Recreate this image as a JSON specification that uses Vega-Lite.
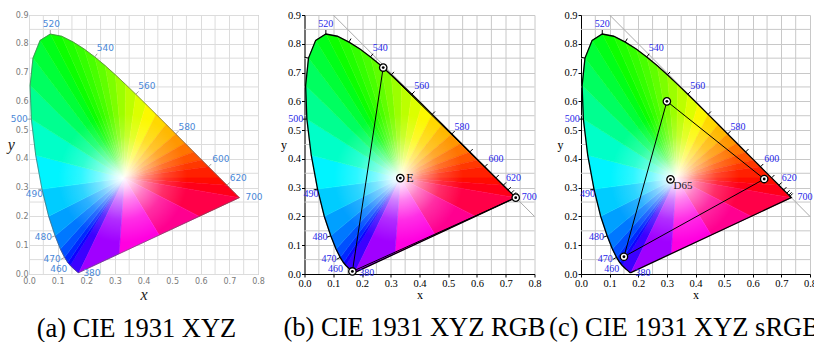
{
  "$schema": "https://vega.github.io/schema/vega-lite/v6.json",
  "background": "white",
  "padding": {"left": 6, "top": 10, "right": 0, "bottom": 0},
  "bounds": "flush",
  "spacing": 46.5,
  "config": {"view": {"stroke": null}},
  "datasets": {
    "tri": [
      {"s":0,"o":0,"x":0.3333,"y":0.3333},{"s":0,"o":1,"x":0.1741,"y":0.0050},{"s":0,"o":2,"x":0.1714,"y":0.0051},{"s":0,"o":3,"x":0.1689,"y":0.0069},{"s":0,"o":4,"x":0.1644,"y":0.0109},{"s":0,"o":5,"x":0.1566,"y":0.0177},{"s":0,"o":6,"x":0.1440,"y":0.0297},
      {"s":1,"o":0,"x":0.3333,"y":0.3333},{"s":1,"o":1,"x":0.1440,"y":0.0297},{"s":1,"o":2,"x":0.1355,"y":0.0399},
      {"s":2,"o":0,"x":0.3333,"y":0.3333},{"s":2,"o":1,"x":0.1355,"y":0.0399},{"s":2,"o":2,"x":0.1241,"y":0.0578},
      {"s":3,"o":0,"x":0.3333,"y":0.3333},{"s":3,"o":1,"x":0.1241,"y":0.0578},{"s":3,"o":2,"x":0.1096,"y":0.0868},
      {"s":4,"o":0,"x":0.3333,"y":0.3333},{"s":4,"o":1,"x":0.1096,"y":0.0868},{"s":4,"o":2,"x":0.0913,"y":0.1327},
      {"s":5,"o":0,"x":0.3333,"y":0.3333},{"s":5,"o":1,"x":0.0913,"y":0.1327},{"s":5,"o":2,"x":0.0687,"y":0.2007},
      {"s":6,"o":0,"x":0.3333,"y":0.3333},{"s":6,"o":1,"x":0.0687,"y":0.2007},{"s":6,"o":2,"x":0.0454,"y":0.2950},
      {"s":7,"o":0,"x":0.3333,"y":0.3333},{"s":7,"o":1,"x":0.0454,"y":0.2950},{"s":7,"o":2,"x":0.0235,"y":0.4127},
      {"s":8,"o":0,"x":0.3333,"y":0.3333},{"s":8,"o":1,"x":0.0235,"y":0.4127},{"s":8,"o":2,"x":0.0082,"y":0.5384},
      {"s":9,"o":0,"x":0.3333,"y":0.3333},{"s":9,"o":1,"x":0.0082,"y":0.5384},{"s":9,"o":2,"x":0.0039,"y":0.6548},
      {"s":10,"o":0,"x":0.3333,"y":0.3333},{"s":10,"o":1,"x":0.0039,"y":0.6548},{"s":10,"o":2,"x":0.0139,"y":0.7502},
      {"s":11,"o":0,"x":0.3333,"y":0.3333},{"s":11,"o":1,"x":0.0139,"y":0.7502},{"s":11,"o":2,"x":0.0389,"y":0.8120},
      {"s":12,"o":0,"x":0.3333,"y":0.3333},{"s":12,"o":1,"x":0.0389,"y":0.8120},{"s":12,"o":2,"x":0.0743,"y":0.8338},
      {"s":13,"o":0,"x":0.3333,"y":0.3333},{"s":13,"o":1,"x":0.0743,"y":0.8338},{"s":13,"o":2,"x":0.1142,"y":0.8262},
      {"s":14,"o":0,"x":0.3333,"y":0.3333},{"s":14,"o":1,"x":0.1142,"y":0.8262},{"s":14,"o":2,"x":0.1547,"y":0.8059},
      {"s":15,"o":0,"x":0.3333,"y":0.3333},{"s":15,"o":1,"x":0.1547,"y":0.8059},{"s":15,"o":2,"x":0.1929,"y":0.7816},
      {"s":16,"o":0,"x":0.3333,"y":0.3333},{"s":16,"o":1,"x":0.1929,"y":0.7816},{"s":16,"o":2,"x":0.2296,"y":0.7543},
      {"s":17,"o":0,"x":0.3333,"y":0.3333},{"s":17,"o":1,"x":0.2296,"y":0.7543},{"s":17,"o":2,"x":0.2658,"y":0.7243},
      {"s":18,"o":0,"x":0.3333,"y":0.3333},{"s":18,"o":1,"x":0.2658,"y":0.7243},{"s":18,"o":2,"x":0.3016,"y":0.6923},
      {"s":19,"o":0,"x":0.3333,"y":0.3333},{"s":19,"o":1,"x":0.3016,"y":0.6923},{"s":19,"o":2,"x":0.3373,"y":0.6589},
      {"s":20,"o":0,"x":0.3333,"y":0.3333},{"s":20,"o":1,"x":0.3373,"y":0.6589},{"s":20,"o":2,"x":0.3731,"y":0.6245},
      {"s":21,"o":0,"x":0.3333,"y":0.3333},{"s":21,"o":1,"x":0.3731,"y":0.6245},{"s":21,"o":2,"x":0.4087,"y":0.5896},
      {"s":22,"o":0,"x":0.3333,"y":0.3333},{"s":22,"o":1,"x":0.4087,"y":0.5896},{"s":22,"o":2,"x":0.4441,"y":0.5547},
      {"s":23,"o":0,"x":0.3333,"y":0.3333},{"s":23,"o":1,"x":0.4441,"y":0.5547},{"s":23,"o":2,"x":0.4788,"y":0.5202},
      {"s":24,"o":0,"x":0.3333,"y":0.3333},{"s":24,"o":1,"x":0.4788,"y":0.5202},{"s":24,"o":2,"x":0.5125,"y":0.4866},
      {"s":25,"o":0,"x":0.3333,"y":0.3333},{"s":25,"o":1,"x":0.5125,"y":0.4866},{"s":25,"o":2,"x":0.5448,"y":0.4544},
      {"s":26,"o":0,"x":0.3333,"y":0.3333},{"s":26,"o":1,"x":0.5448,"y":0.4544},{"s":26,"o":2,"x":0.5752,"y":0.4242},
      {"s":27,"o":0,"x":0.3333,"y":0.3333},{"s":27,"o":1,"x":0.5752,"y":0.4242},{"s":27,"o":2,"x":0.6029,"y":0.3965},
      {"s":28,"o":0,"x":0.3333,"y":0.3333},{"s":28,"o":1,"x":0.6029,"y":0.3965},{"s":28,"o":2,"x":0.6270,"y":0.3725},
      {"s":29,"o":0,"x":0.3333,"y":0.3333},{"s":29,"o":1,"x":0.6270,"y":0.3725},{"s":29,"o":2,"x":0.6658,"y":0.3340},
      {"s":30,"o":0,"x":0.3333,"y":0.3333},{"s":30,"o":1,"x":0.6658,"y":0.3340},{"s":30,"o":2,"x":0.6915,"y":0.3083},
      {"s":31,"o":0,"x":0.3333,"y":0.3333},{"s":31,"o":1,"x":0.6915,"y":0.3083},{"s":31,"o":2,"x":0.7079,"y":0.2920},{"s":31,"o":3,"x":0.7190,"y":0.2809},{"s":31,"o":4,"x":0.7260,"y":0.2740},{"s":31,"o":5,"x":0.7300,"y":0.2700},{"s":31,"o":6,"x":0.7334,"y":0.2666},{"s":31,"o":7,"x":0.7347,"y":0.2653},
      {"s":32,"o":0,"x":0.3333,"y":0.3333},{"s":32,"o":1,"x":0.7347,"y":0.2653},{"s":32,"o":2,"x":0.5946,"y":0.2002},
      {"s":33,"o":0,"x":0.3333,"y":0.3333},{"s":33,"o":1,"x":0.5946,"y":0.2002},{"s":33,"o":2,"x":0.4544,"y":0.1352},
      {"s":34,"o":0,"x":0.3333,"y":0.3333},{"s":34,"o":1,"x":0.4544,"y":0.1352},{"s":34,"o":2,"x":0.3143,"y":0.0701},
      {"s":35,"o":0,"x":0.3333,"y":0.3333},{"s":35,"o":1,"x":0.3143,"y":0.0701},{"s":35,"o":2,"x":0.1741,"y":0.0050}
    ],
    "locus": [
      {"i":0,"x":0.1741,"y":0.0050},{"i":1,"x":0.1714,"y":0.0051},{"i":2,"x":0.1689,"y":0.0069},{"i":3,"x":0.1644,"y":0.0109},{"i":4,"x":0.1566,"y":0.0177},{"i":5,"x":0.1440,"y":0.0297},{"i":6,"x":0.1355,"y":0.0399},{"i":7,"x":0.1241,"y":0.0578},{"i":8,"x":0.1096,"y":0.0868},{"i":9,"x":0.0913,"y":0.1327},{"i":10,"x":0.0687,"y":0.2007},{"i":11,"x":0.0454,"y":0.2950},{"i":12,"x":0.0235,"y":0.4127},{"i":13,"x":0.0082,"y":0.5384},{"i":14,"x":0.0039,"y":0.6548},{"i":15,"x":0.0139,"y":0.7502},{"i":16,"x":0.0389,"y":0.8120},{"i":17,"x":0.0743,"y":0.8338},{"i":18,"x":0.1142,"y":0.8262},{"i":19,"x":0.1547,"y":0.8059},{"i":20,"x":0.1929,"y":0.7816},{"i":21,"x":0.2296,"y":0.7543},{"i":22,"x":0.2658,"y":0.7243},{"i":23,"x":0.3016,"y":0.6923},{"i":24,"x":0.3373,"y":0.6589},{"i":25,"x":0.3731,"y":0.6245},{"i":26,"x":0.4087,"y":0.5896},{"i":27,"x":0.4441,"y":0.5547},{"i":28,"x":0.4788,"y":0.5202},{"i":29,"x":0.5125,"y":0.4866},{"i":30,"x":0.5448,"y":0.4544},{"i":31,"x":0.5752,"y":0.4242},{"i":32,"x":0.6029,"y":0.3965},{"i":33,"x":0.6270,"y":0.3725},{"i":34,"x":0.6658,"y":0.3340},{"i":35,"x":0.6915,"y":0.3083},{"i":36,"x":0.7079,"y":0.2920},{"i":37,"x":0.7190,"y":0.2809},{"i":38,"x":0.7260,"y":0.2740},{"i":39,"x":0.7300,"y":0.2700},{"i":40,"x":0.7334,"y":0.2666},{"i":41,"x":0.7347,"y":0.2653},{"i":42,"x":0.1741,"y":0.0050}
    ],
    "ticks": [
      {"wl":470,"lab":1,"x":0.1241,"y":0.0578,"x2":0.1119,"y2":0.0511},
      {"wl":480,"lab":1,"x":0.0913,"y":0.1327,"x2":0.0781,"y2":0.1279},
      {"wl":490,"lab":1,"x":0.0454,"y":0.2950,"x2":0.0317,"y2":0.2921},
      {"wl":500,"lab":1,"x":0.0082,"y":0.5384,"x2":-0.0058,"y2":0.5380},
      {"wl":510,"lab":0,"x":0.0139,"y":0.7502,"x2":0.0002,"y2":0.7533},
      {"wl":520,"lab":1,"x":0.0743,"y":0.8338,"x2":0.0743,"y2":0.8478},
      {"wl":530,"lab":0,"x":0.1547,"y":0.8059,"x2":0.1617,"y2":0.8181},
      {"wl":540,"lab":1,"x":0.2296,"y":0.7543,"x2":0.2383,"y2":0.7654},
      {"wl":550,"lab":0,"x":0.3016,"y":0.6923,"x2":0.3113,"y2":0.7024},
      {"wl":560,"lab":1,"x":0.3731,"y":0.6245,"x2":0.3829,"y2":0.6344},
      {"wl":570,"lab":0,"x":0.4441,"y":0.5547,"x2":0.4539,"y2":0.5646},
      {"wl":580,"lab":1,"x":0.5125,"y":0.4866,"x2":0.5223,"y2":0.4965},
      {"wl":590,"lab":0,"x":0.5752,"y":0.4242,"x2":0.5850,"y2":0.4341},
      {"wl":600,"lab":1,"x":0.6270,"y":0.3725,"x2":0.6368,"y2":0.3824},
      {"wl":610,"lab":0,"x":0.6658,"y":0.3340,"x2":0.6756,"y2":0.3439},
      {"wl":620,"lab":1,"x":0.6915,"y":0.3083,"x2":0.7013,"y2":0.3182},
      {"wl":630,"lab":0,"x":0.7079,"y":0.2920,"x2":0.7177,"y2":0.3019},
      {"wl":640,"lab":0,"x":0.7190,"y":0.2809,"x2":0.7288,"y2":0.2908},
      {"wl":650,"lab":0,"x":0.7260,"y":0.2740,"x2":0.7358,"y2":0.2839},
      {"wl":660,"lab":0,"x":0.7300,"y":0.2700,"x2":0.7398,"y2":0.2799}
    ],
    "wl": [
      {"t":"520","x":0.048,"y":0.867,"side":"r"},
      {"t":"540","x":0.237,"y":0.785,"side":"r"},
      {"t":"560","x":0.382,"y":0.653,"side":"r"},
      {"t":"580","x":0.522,"y":0.512,"side":"r"},
      {"t":"600","x":0.640,"y":0.398,"side":"r"},
      {"t":"620","x":0.701,"y":0.334,"side":"r"},
      {"t":"700","x":0.756,"y":0.266,"side":"r"},
      {"t":"380","x":0.190,"y":0.003,"side":"r"},
      {"t":"500","x":-0.004,"y":0.538,"side":"l"},
      {"t":"490","x":0.049,"y":0.277,"side":"l"},
      {"t":"480","x":0.080,"y":0.127,"side":"l"},
      {"t":"470","x":0.111,"y":0.053,"side":"l"},
      {"t":"460","x":0.134,"y":0.019,"side":"l"}
    ],
    "gx": [{"x":0.05,"y":0,"y2":0.9},{"x":0.15,"y":0,"y2":0.9},{"x":0.25,"y":0,"y2":0.9},{"x":0.35,"y":0,"y2":0.9},{"x":0.45,"y":0,"y2":0.9},{"x":0.55,"y":0,"y2":0.9},{"x":0.65,"y":0,"y2":0.9},{"x":0.75,"y":0,"y2":0.9}],
    "gy": [{"y":0.05,"x":0,"x2":0.8},{"y":0.15,"x":0,"x2":0.8},{"y":0.25,"x":0,"x2":0.8},{"y":0.35,"x":0,"x2":0.8},{"y":0.45,"x":0,"x2":0.8},{"y":0.55,"x":0,"x2":0.8},{"y":0.65,"x":0,"x2":0.8},{"y":0.75,"x":0,"x2":0.8},{"y":0.85,"x":0,"x2":0.8}],
    "diag": [{"x":0.1,"y":0.9},{"x":0.8,"y":0.2}],
    "gRGB": [{"o":0,"x":0.7347,"y":0.2653},{"o":1,"x":0.2738,"y":0.7174},{"o":2,"x":0.1666,"y":0.0089},{"o":3,"x":0.7347,"y":0.2653}],
    "gSRGB": [{"o":0,"x":0.64,"y":0.33},{"o":1,"x":0.30,"y":0.60},{"o":2,"x":0.15,"y":0.06},{"o":3,"x":0.64,"y":0.33}],
    "pRGB": [{"x":0.7347,"y":0.2653},{"x":0.2738,"y":0.7174},{"x":0.1666,"y":0.0089},{"x":0.3333,"y":0.3333}],
    "pSRGB": [{"x":0.64,"y":0.33},{"x":0.30,"y":0.60},{"x":0.15,"y":0.06},{"x":0.3127,"y":0.3290}],
    "wpE": [{"x":0.3333,"y":0.3333,"t":"E"}],
    "wpD": [{"x":0.3127,"y":0.3290,"t":"D65"}]
  },
  "hconcat": [
    {
      "width": 229, "height": 259,
      "view": {"stroke": "#a8a8a8"},
      "title": {"text": "(a) CIE 1931 XYZ", "orient": "bottom", "dx": -7, "offset": 14, "font": "Liberation Serif", "fontSize": 26.5, "fontWeight": "normal", "color": "#000"},
      "encoding": {
        "x": {"field": "x", "type": "quantitative", "scale": {"domain": [0, 0.8], "nice": false, "zero": false},
          "axis": {"title": "x", "values": [0,0.1,0.2,0.3,0.4,0.5,0.6,0.7,0.8], "format": ".1f", "labelFlush": false, "labelOverlap": false, "grid": true, "gridColor": "#dcdcdc", "ticks": false, "domain": false, "labelFont": "DejaVu Sans", "labelFontSize": 8, "labelColor": "#7a7a7a", "labelPadding": 3, "titleFont": "Liberation Serif", "titleFontStyle": "italic", "titleFontWeight": "normal", "titleFontSize": 16, "titleColor": "#222", "titlePadding": 1}},
        "y": {"field": "y", "type": "quantitative", "scale": {"domain": [0, 0.9], "nice": false, "zero": false},
          "axis": {"title": "y", "values": [0,0.1,0.2,0.3,0.4,0.5,0.6,0.7,0.8,0.9], "format": ".1f", "labelOverlap": false, "grid": true, "gridColor": "#dcdcdc", "ticks": false, "domain": false, "labelFont": "DejaVu Sans", "labelFontSize": 8, "labelColor": "#7a7a7a", "labelPadding": 1, "titleFont": "Liberation Serif", "titleFontStyle": "italic", "titleFontWeight": "normal", "titleFontSize": 16, "titleColor": "#222", "titlePadding": 1, "titleAngle": 0, "titleAlign": "right", "titleBaseline": "middle"}}
      },
      "layer": [
        {"data": {"name": "gx"}, "mark": {"type": "rule", "color": "#dcdcdc", "strokeWidth": 1}, "encoding": {"y2": {"field": "y2"}}},
        {"data": {"name": "gy"}, "mark": {"type": "rule", "color": "#dcdcdc", "strokeWidth": 1}, "encoding": {"x2": {"field": "x2"}}},
        {
          "data": {"name": "tri"},
          "mark": {"type": "line", "filled": true, "strokeWidth": 0.7},
          "encoding": {
            "order": {"field": "o", "type": "quantitative"},
            "color": {"field": "s", "type": "nominal", "legend": null, "scale": {"domain": [0,1,2,3,4,5,6,7,8,9,10,11,12,13,14,15,16,17,18,19,20,21,22,23,24,25,26,27,28,29,30,31,32,33,34,35], "range": ["#3c00ff","#1000ff","#0028ff","#0050ff","#0078ff","#00a0ff","#00ccff","#00f4ff","#00ffc8","#00ff90","#00ff60","#00ff38","#00ff18","#0cff00","#20ff00","#34ff00","#48ff00","#60ff00","#7cff00","#9cff00","#bcff00","#dcff00","#fcf800","#ffd800","#ffb800","#ff9600","#ff7400","#ff5400","#ff3800","#ff2000","#ff0c00","#ff0018","#ff0048","#ff0090","#ff00e0","#a000ff"]}},
            "stroke": {"field": "s", "type": "nominal", "legend": null, "scale": {"domain": [0,1,2,3,4,5,6,7,8,9,10,11,12,13,14,15,16,17,18,19,20,21,22,23,24,25,26,27,28,29,30,31,32,33,34,35], "range": ["#3c00ff","#1000ff","#0028ff","#0050ff","#0078ff","#00a0ff","#00ccff","#00f4ff","#00ffc8","#00ff90","#00ff60","#00ff38","#00ff18","#0cff00","#20ff00","#34ff00","#48ff00","#60ff00","#7cff00","#9cff00","#bcff00","#dcff00","#fcf800","#ffd800","#ffb800","#ff9600","#ff7400","#ff5400","#ff3800","#ff2000","#ff0c00","#ff0018","#ff0048","#ff0090","#ff00e0","#a000ff"]}}
          }
        },
        {
          "data": {"name": "locus"},
          "transform": [{"filter": "datum.i <= 41"}],
          "mark": {"type": "line", "strokeWidth": 0, "fill": {"gradient": "radial", "x1": 0.45, "y1": 0.604, "r1": 0, "x2": 0.45, "y2": 0.604, "r2": 0.27, "stops": [{"offset": 0, "color": "rgba(255,255,255,1)"}, {"offset": 0.12, "color": "rgba(255,255,255,0.85)"}, {"offset": 0.35, "color": "rgba(255,255,255,0.5)"}, {"offset": 0.65, "color": "rgba(255,255,255,0.18)"}, {"offset": 1, "color": "rgba(255,255,255,0)"}]}},
          "encoding": {"order": {"field": "i", "type": "quantitative"}}
        },
        {"data": {"name": "locus"}, "mark": {"type": "line", "color": "#555", "strokeWidth": 0.6}, "encoding": {"order": {"field": "i", "type": "quantitative"}}},
        {"data": {"name": "ticks"}, "transform": [{"filter": "datum.lab == 1"}], "mark": {"type": "rule", "color": "#888", "strokeWidth": 0.8}, "encoding": {"x2": {"field": "x2"}, "y2": {"field": "y2"}}},
        {
          "data": {"name": "wl"},
          "transform": [{"filter": "datum.side == 'r'"}],
          "mark": {"type": "text", "align": "left", "baseline": "middle", "font": "DejaVu Sans", "fontSize": 9, "color": "#4a88d8"},
          "encoding": {"text": {"field": "t"}}
        },
        {
          "data": {"name": "wl"},
          "transform": [{"filter": "datum.side == 'l'"}],
          "mark": {"type": "text", "align": "right", "baseline": "middle", "font": "DejaVu Sans", "fontSize": 9, "color": "#4a88d8"},
          "encoding": {"text": {"field": "t"}}
        }
      ]
    },
    {
      "width": 230, "height": 259,
      "title": {"text": "(b) CIE 1931 XYZ RGB", "orient": "bottom", "dx": -5, "offset": 14, "font": "Liberation Serif", "fontSize": 26.5, "fontWeight": "normal", "color": "#000"},
      "encoding": {
        "x": {"field": "x", "type": "quantitative", "scale": {"domain": [0, 0.8], "nice": false, "zero": false},
          "axis": {"title": "x", "values": [0,0.1,0.2,0.3,0.4,0.5,0.6,0.7,0.8], "format": ".1f", "labelFlush": false, "labelOverlap": false, "grid": true, "gridColor": "#c8c8c8", "domainColor": "#000", "tickColor": "#000", "tickSize": 3, "labelFont": "Liberation Serif", "labelFontSize": 10.5, "labelColor": "#000", "labelPadding": 1, "titleFont": "Liberation Serif", "titleFontWeight": "normal", "titleFontSize": 12, "titleColor": "#000", "titlePadding": 1}},
        "y": {"field": "y", "type": "quantitative", "scale": {"domain": [0, 0.9], "nice": false, "zero": false},
          "axis": {"title": "y", "values": [0,0.1,0.2,0.3,0.4,0.5,0.6,0.7,0.8,0.9], "format": ".1f", "labelOverlap": false, "grid": true, "gridColor": "#c8c8c8", "domainColor": "#000", "tickColor": "#000", "tickSize": 3, "labelFont": "Liberation Serif", "labelFontSize": 10.5, "labelColor": "#000", "labelPadding": 1, "titleFont": "Liberation Serif", "titleFontWeight": "normal", "titleFontSize": 12, "titleColor": "#000", "titlePadding": 1, "titleAngle": 0, "titleAlign": "right", "titleBaseline": "middle"}}
      },
      "layer": [
        {"data": {"name": "gx"}, "mark": {"type": "rule", "color": "#c8c8c8", "strokeWidth": 1}, "encoding": {"y2": {"field": "y2"}}},
        {"data": {"name": "gy"}, "mark": {"type": "rule", "color": "#c8c8c8", "strokeWidth": 1}, "encoding": {"x2": {"field": "x2"}}},
        {
          "data": {"name": "tri"},
          "mark": {"type": "line", "filled": true, "strokeWidth": 0.7},
          "encoding": {
            "order": {"field": "o", "type": "quantitative"},
            "color": {"field": "s", "type": "nominal", "legend": null, "scale": {"domain": [0,1,2,3,4,5,6,7,8,9,10,11,12,13,14,15,16,17,18,19,20,21,22,23,24,25,26,27,28,29,30,31,32,33,34,35], "range": ["#3c00ff","#1000ff","#0028ff","#0050ff","#0078ff","#00a0ff","#00ccff","#00f4ff","#00ffc8","#00ff90","#00ff60","#00ff38","#00ff18","#0cff00","#20ff00","#34ff00","#48ff00","#60ff00","#7cff00","#9cff00","#bcff00","#dcff00","#fcf800","#ffd800","#ffb800","#ff9600","#ff7400","#ff5400","#ff3800","#ff2000","#ff0c00","#ff0018","#ff0048","#ff0090","#ff00e0","#a000ff"]}},
            "stroke": {"field": "s", "type": "nominal", "legend": null, "scale": {"domain": [0,1,2,3,4,5,6,7,8,9,10,11,12,13,14,15,16,17,18,19,20,21,22,23,24,25,26,27,28,29,30,31,32,33,34,35], "range": ["#3c00ff","#1000ff","#0028ff","#0050ff","#0078ff","#00a0ff","#00ccff","#00f4ff","#00ffc8","#00ff90","#00ff60","#00ff38","#00ff18","#0cff00","#20ff00","#34ff00","#48ff00","#60ff00","#7cff00","#9cff00","#bcff00","#dcff00","#fcf800","#ffd800","#ffb800","#ff9600","#ff7400","#ff5400","#ff3800","#ff2000","#ff0c00","#ff0018","#ff0048","#ff0090","#ff00e0","#a000ff"]}}
          }
        },
        {
          "data": {"name": "locus"},
          "transform": [{"filter": "datum.i <= 41"}],
          "mark": {"type": "line", "strokeWidth": 0, "fill": {"gradient": "radial", "x1": 0.45, "y1": 0.604, "r1": 0, "x2": 0.45, "y2": 0.604, "r2": 0.27, "stops": [{"offset": 0, "color": "rgba(255,255,255,1)"}, {"offset": 0.12, "color": "rgba(255,255,255,0.85)"}, {"offset": 0.35, "color": "rgba(255,255,255,0.5)"}, {"offset": 0.65, "color": "rgba(255,255,255,0.18)"}, {"offset": 1, "color": "rgba(255,255,255,0)"}]}},
          "encoding": {"order": {"field": "i", "type": "quantitative"}}
        },
        {"data": {"name": "diag"}, "mark": {"type": "line", "color": "#aaaaaa", "strokeWidth": 1}, "encoding": {}},
        {"data": {"name": "locus"}, "mark": {"type": "line", "color": "#000", "strokeWidth": 1.3}, "encoding": {"order": {"field": "i", "type": "quantitative"}}},
        {"data": {"name": "ticks"}, "mark": {"type": "rule", "color": "#000", "strokeWidth": 1}, "encoding": {"x2": {"field": "x2"}, "y2": {"field": "y2"}}},
        {"data": {"name": "gRGB"}, "mark": {"type": "line", "color": "#000", "strokeWidth": 1}, "encoding": {"order": {"field": "o", "type": "quantitative"}}},
        {
          "data": {"name": "wl"},
          "transform": [{"filter": "datum.side == 'r'"}],
          "mark": {"type": "text", "align": "left", "baseline": "middle", "font": "Liberation Serif", "fontSize": 10, "color": "#2626e8"},
          "encoding": {"text": {"field": "t"}}
        },
        {
          "data": {"name": "wl"},
          "transform": [{"filter": "datum.side == 'l'"}],
          "mark": {"type": "text", "align": "right", "baseline": "middle", "font": "Liberation Serif", "fontSize": 10, "color": "#2626e8"},
          "encoding": {"text": {"field": "t"}}
        },
        {"data": {"name": "pRGB"}, "mark": {"type": "point", "shape": "circle", "filled": true, "fill": "#fff", "stroke": "#000", "strokeWidth": 1.3, "size": 55, "opacity": 1}, "encoding": {}},
        {"data": {"name": "pRGB"}, "mark": {"type": "point", "shape": "circle", "filled": true, "color": "#000", "size": 8, "opacity": 1}, "encoding": {}},
        {
          "data": {"name": "wpE"},
          "mark": {"type": "text", "align": "left", "baseline": "middle", "dx": 6, "font": "Liberation Serif", "fontSize": 12, "color": "#000"},
          "encoding": {"text": {"field": "t"}}
        }
      ]
    },
    {
      "width": 229, "height": 259,
      "title": {"text": "(c) CIE 1931 XYZ sRGB", "orient": "bottom", "dx": -11, "offset": 14, "font": "Liberation Serif", "fontSize": 26.5, "fontWeight": "normal", "color": "#000"},
      "encoding": {
        "x": {"field": "x", "type": "quantitative", "scale": {"domain": [0, 0.8], "nice": false, "zero": false},
          "axis": {"title": "x", "values": [0,0.1,0.2,0.3,0.4,0.5,0.6,0.7,0.8], "format": ".1f", "labelFlush": false, "labelOverlap": false, "grid": true, "gridColor": "#c8c8c8", "domainColor": "#000", "tickColor": "#000", "tickSize": 3, "labelFont": "Liberation Serif", "labelFontSize": 10.5, "labelColor": "#000", "labelPadding": 1, "titleFont": "Liberation Serif", "titleFontWeight": "normal", "titleFontSize": 12, "titleColor": "#000", "titlePadding": 1}},
        "y": {"field": "y", "type": "quantitative", "scale": {"domain": [0, 0.9], "nice": false, "zero": false},
          "axis": {"title": "y", "values": [0,0.1,0.2,0.3,0.4,0.5,0.6,0.7,0.8,0.9], "format": ".1f", "labelOverlap": false, "grid": true, "gridColor": "#c8c8c8", "domainColor": "#000", "tickColor": "#000", "tickSize": 3, "labelFont": "Liberation Serif", "labelFontSize": 10.5, "labelColor": "#000", "labelPadding": 1, "titleFont": "Liberation Serif", "titleFontWeight": "normal", "titleFontSize": 12, "titleColor": "#000", "titlePadding": 1, "titleAngle": 0, "titleAlign": "right", "titleBaseline": "middle"}}
      },
      "layer": [
        {"data": {"name": "gx"}, "mark": {"type": "rule", "color": "#c8c8c8", "strokeWidth": 1}, "encoding": {"y2": {"field": "y2"}}},
        {"data": {"name": "gy"}, "mark": {"type": "rule", "color": "#c8c8c8", "strokeWidth": 1}, "encoding": {"x2": {"field": "x2"}}},
        {
          "data": {"name": "tri"},
          "mark": {"type": "line", "filled": true, "strokeWidth": 0.7},
          "encoding": {
            "order": {"field": "o", "type": "quantitative"},
            "color": {"field": "s", "type": "nominal", "legend": null, "scale": {"domain": [0,1,2,3,4,5,6,7,8,9,10,11,12,13,14,15,16,17,18,19,20,21,22,23,24,25,26,27,28,29,30,31,32,33,34,35], "range": ["#3c00ff","#1000ff","#0028ff","#0050ff","#0078ff","#00a0ff","#00ccff","#00f4ff","#00ffc8","#00ff90","#00ff60","#00ff38","#00ff18","#0cff00","#20ff00","#34ff00","#48ff00","#60ff00","#7cff00","#9cff00","#bcff00","#dcff00","#fcf800","#ffd800","#ffb800","#ff9600","#ff7400","#ff5400","#ff3800","#ff2000","#ff0c00","#ff0018","#ff0048","#ff0090","#ff00e0","#a000ff"]}},
            "stroke": {"field": "s", "type": "nominal", "legend": null, "scale": {"domain": [0,1,2,3,4,5,6,7,8,9,10,11,12,13,14,15,16,17,18,19,20,21,22,23,24,25,26,27,28,29,30,31,32,33,34,35], "range": ["#3c00ff","#1000ff","#0028ff","#0050ff","#0078ff","#00a0ff","#00ccff","#00f4ff","#00ffc8","#00ff90","#00ff60","#00ff38","#00ff18","#0cff00","#20ff00","#34ff00","#48ff00","#60ff00","#7cff00","#9cff00","#bcff00","#dcff00","#fcf800","#ffd800","#ffb800","#ff9600","#ff7400","#ff5400","#ff3800","#ff2000","#ff0c00","#ff0018","#ff0048","#ff0090","#ff00e0","#a000ff"]}}
          }
        },
        {
          "data": {"name": "locus"},
          "transform": [{"filter": "datum.i <= 41"}],
          "mark": {"type": "line", "strokeWidth": 0, "fill": {"gradient": "radial", "x1": 0.45, "y1": 0.604, "r1": 0, "x2": 0.45, "y2": 0.604, "r2": 0.27, "stops": [{"offset": 0, "color": "rgba(255,255,255,1)"}, {"offset": 0.12, "color": "rgba(255,255,255,0.85)"}, {"offset": 0.35, "color": "rgba(255,255,255,0.5)"}, {"offset": 0.65, "color": "rgba(255,255,255,0.18)"}, {"offset": 1, "color": "rgba(255,255,255,0)"}]}},
          "encoding": {"order": {"field": "i", "type": "quantitative"}}
        },
        {"data": {"name": "diag"}, "mark": {"type": "line", "color": "#aaaaaa", "strokeWidth": 1}, "encoding": {}},
        {"data": {"name": "locus"}, "mark": {"type": "line", "color": "#000", "strokeWidth": 1.3}, "encoding": {"order": {"field": "i", "type": "quantitative"}}},
        {"data": {"name": "ticks"}, "mark": {"type": "rule", "color": "#000", "strokeWidth": 1}, "encoding": {"x2": {"field": "x2"}, "y2": {"field": "y2"}}},
        {"data": {"name": "gSRGB"}, "mark": {"type": "line", "color": "#000", "strokeWidth": 1}, "encoding": {"order": {"field": "o", "type": "quantitative"}}},
        {
          "data": {"name": "wl"},
          "transform": [{"filter": "datum.side == 'r'"}],
          "mark": {"type": "text", "align": "left", "baseline": "middle", "font": "Liberation Serif", "fontSize": 10, "color": "#2626e8"},
          "encoding": {"text": {"field": "t"}}
        },
        {
          "data": {"name": "wl"},
          "transform": [{"filter": "datum.side == 'l'"}],
          "mark": {"type": "text", "align": "right", "baseline": "middle", "font": "Liberation Serif", "fontSize": 10, "color": "#2626e8"},
          "encoding": {"text": {"field": "t"}}
        },
        {"data": {"name": "pSRGB"}, "mark": {"type": "point", "shape": "circle", "filled": true, "fill": "#fff", "stroke": "#000", "strokeWidth": 1.3, "size": 55, "opacity": 1}, "encoding": {}},
        {"data": {"name": "pSRGB"}, "mark": {"type": "point", "shape": "circle", "filled": true, "color": "#000", "size": 8, "opacity": 1}, "encoding": {}},
        {
          "data": {"name": "wpD"},
          "mark": {"type": "text", "align": "left", "baseline": "middle", "dx": 3, "dy": 7, "font": "Liberation Serif", "fontSize": 11, "color": "#222"},
          "encoding": {"text": {"field": "t"}}
        }
      ]
    }
  ]
}
